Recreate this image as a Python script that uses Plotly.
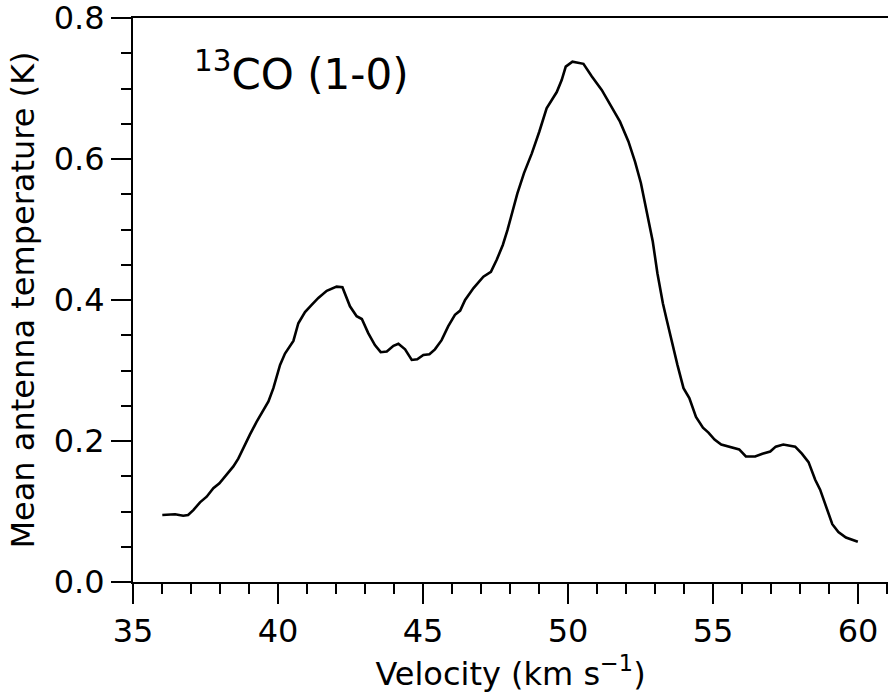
import plotly.graph_objects as go

velocity = [36.01, 36.45, 36.73, 36.90, 37.08, 37.31, 37.54, 37.77, 37.98, 38.23,
            38.46, 38.63, 38.80, 39.03, 39.26, 39.49, 39.67, 39.84, 39.95, 40.07,
            40.24, 40.53, 40.70, 40.93, 41.16, 41.39, 41.68, 42.02, 42.22, 42.48,
            42.71, 42.89, 43.11, 43.34, 43.54, 43.75, 43.98, 44.15, 44.38, 44.61,
            44.80, 45.01, 45.22, 45.41, 45.64, 45.87, 46.10, 46.28, 46.45, 46.74,
            47.08, 47.34, 47.54, 47.75, 47.91, 48.06, 48.25, 48.48, 48.75, 49.01,
            49.26, 49.61, 49.78, 49.92, 50.15, 50.53, 50.82, 51.16, 51.51, 51.79,
            52.08, 52.31, 52.51, 52.71, 52.92, 53.08, 53.27, 53.40, 53.58, 53.77,
            53.98, 54.18, 54.41, 54.65, 54.84, 55.05, 55.28, 55.59, 55.90, 56.13,
            56.45, 56.70, 56.97, 57.16, 57.42, 57.83, 58.06, 58.29, 58.52, 58.69,
            58.90, 59.11, 59.32, 59.58, 59.99]

temperature = [0.095, 0.096, 0.094, 0.095, 0.102, 0.113, 0.121, 0.133, 0.140, 0.152,
               0.164, 0.175, 0.190, 0.209, 0.227, 0.244, 0.256, 0.275, 0.291, 0.308,
               0.324, 0.342, 0.367, 0.383, 0.393, 0.403, 0.413, 0.419, 0.418, 0.391,
               0.377, 0.373, 0.353, 0.336, 0.326, 0.327, 0.335, 0.338, 0.330, 0.315,
               0.316, 0.322, 0.323, 0.330, 0.343, 0.363, 0.379, 0.385, 0.400, 0.417,
               0.433, 0.440, 0.457, 0.478, 0.499, 0.523, 0.551, 0.580, 0.608, 0.639,
               0.672, 0.695, 0.712, 0.731, 0.738, 0.735, 0.717, 0.698, 0.674, 0.653,
               0.625, 0.596, 0.566, 0.523, 0.483, 0.438, 0.395, 0.372, 0.339, 0.308,
               0.275, 0.261, 0.234, 0.219, 0.212, 0.202, 0.195, 0.192, 0.188, 0.178,
               0.178, 0.182, 0.185, 0.192, 0.195, 0.192, 0.182, 0.170, 0.145, 0.131,
               0.107, 0.082, 0.071, 0.063, 0.057]

x_ticks = [35, 40, 45, 50, 55, 60]
y_ticks = [0.0, 0.2, 0.4, 0.6, 0.8]
y_tick_labels = ["0.0", "0.2", "0.4", "0.6", "0.8"]

FONT = "DejaVu Sans"

fig = go.Figure()
fig.add_trace(go.Scatter(x=velocity, y=temperature, mode="lines",
                         line=dict(color="black", width=2.6), showlegend=False))

fig.update_layout(
    width=888, height=693,
    margin=dict(l=133, r=0, t=18, b=111),
    plot_bgcolor="white", paper_bgcolor="white",
    font=dict(family=FONT, color="black", size=32),
)

fig.update_xaxes(
    range=[35, 61.03], tickvals=x_ticks, ticktext=[str(v) for v in x_ticks],
    showgrid=False, zeroline=False,
    showline=True, linecolor="black", linewidth=2, mirror=True,
    ticks="outside", ticklen=20, tickwidth=2, tickcolor="black",
    minor=dict(dtick=1, tick0=35, ticks="outside", ticklen=10, tickwidth=2, tickcolor="black", showgrid=False),
    tickfont=dict(size=32, family=FONT), ticklabeloverflow="allow",
    title=dict(text="Velocity (km s<sup>−1</sup>)", font=dict(size=32, family=FONT), standoff=0),
)
fig.update_yaxes(
    range=[0, 0.8], tickvals=y_ticks, ticktext=y_tick_labels,
    showgrid=False, zeroline=False,
    showline=True, linecolor="black", linewidth=2, mirror=False,
    ticks="outside", ticklen=20, tickwidth=2, tickcolor="black",
    minor=dict(dtick=0.05, tick0=0, ticks="outside", ticklen=10, tickwidth=2, tickcolor="black", showgrid=False),
    tickfont=dict(size=32, family=FONT), ticklabeloverflow="allow",
    title=dict(text="Mean antenna temperature (K)", font=dict(size=32, family=FONT), standoff=10),
)

fig.add_annotation(
    text="<sup>13</sup>CO (1-0)", xref="paper", yref="paper",
    x=(192 - 133) / 755, y=(582 - 72) / 564, xanchor="left", yanchor="middle",
    showarrow=False, font=dict(size=42, family=FONT, color="black"),
)

fig.write_html("out.html")
